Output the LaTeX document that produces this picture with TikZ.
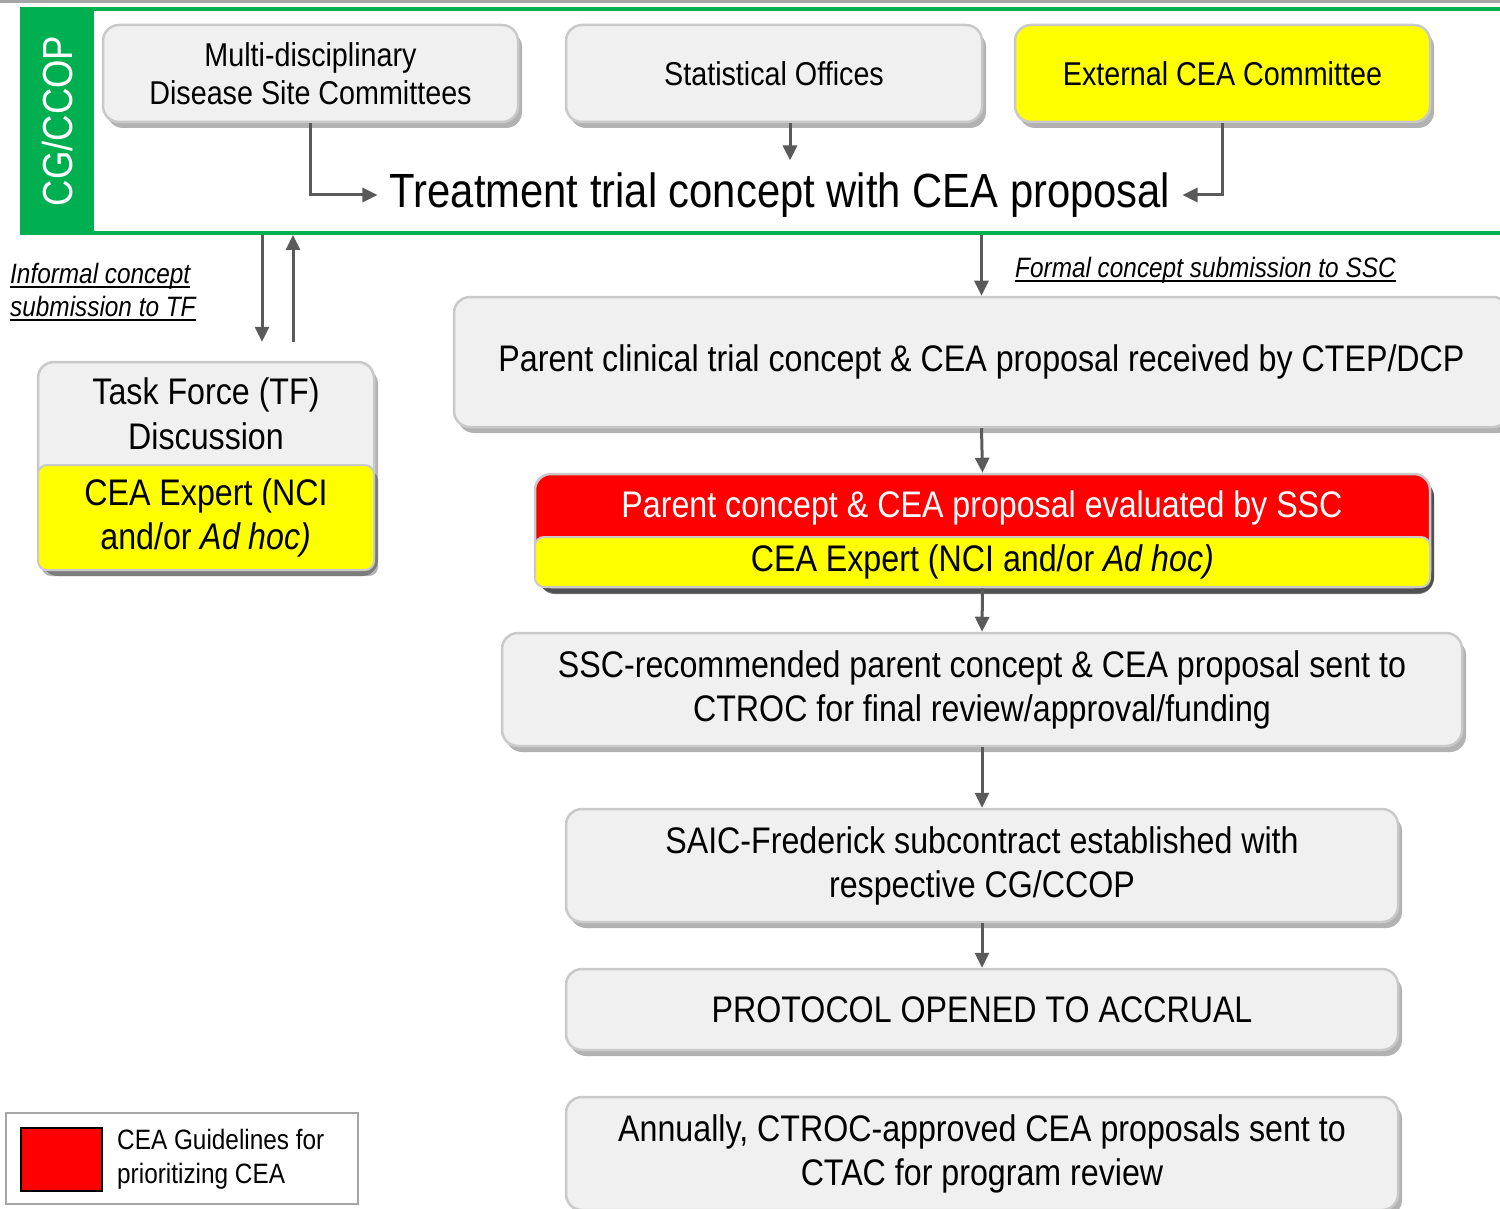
\documentclass[tikz,border=0pt]{standalone}
\usepackage{fontspec}
\setmainfont{Liberation Sans}[FakeStretch=0.87]
\usetikzlibrary{positioning,shadows,arrows.meta}
\definecolor{ccgreen}{HTML}{00B050}
\definecolor{boxgray}{HTML}{F0F0F0}
\definecolor{boxline}{HTML}{C9C9C9}
\definecolor{arrowgray}{HTML}{5A5A5A}
\definecolor{ceayellow}{HTML}{FFFF00}
\definecolor{ceared}{HTML}{FF0000}
\newcommand\ulbar[1]{\setbox0\hbox{#1}\rlap{\vrule height -3pt depth 5pt width \wd0}\box0}

\begin{document}
\begin{tikzpicture}[x=1pt,y=-1pt,
    stage/.style={draw=boxline, line width=2.5pt, fill=boxgray, rounded corners=16pt,
      align=center, inner sep=0pt, font=\fontsize{37}{44}\selectfont,
      drop shadow={shadow xshift=4pt, shadow yshift=-6pt, fill=black, opacity=0.3}},
    head/.style={stage, font=\fontsize{33}{38}\selectfont, minimum width=415pt, minimum height=97pt},
    expert/.style={draw=boxline, line width=2pt, fill=ceayellow, rounded corners=9pt,
      align=center, inner sep=0pt, font=\fontsize{37}{44}\selectfont},
    flow/.style={draw=arrowgray, line width=3pt, -{Triangle[length=15pt,width=14pt]}},
    note/.style={anchor=west, align=left, inner sep=0pt, font=\fontsize{28}{33}\selectfont\itshape}]
  \useasboundingbox (0,0) rectangle (1500,1209);
  \draw[gray!70, line width=3pt] (0,1.5) -- (1500,1.5);
  \node[draw=ccgreen, line width=4pt, minimum width=1498pt, minimum height=224pt, inner sep=0pt] (frame) at (771,121) {};
  \node[fill=ccgreen, minimum width=74pt, minimum height=228pt, inner sep=0pt] (bar) at (57,121) {};
  \node[rotate=90, text=white, font=\fontsize{42}{42}\selectfont] (cg) at (bar) {CG/CCOP};

  \node[head] (mdsc) at (310.5,73.5) {Multi-disciplinary\\Disease Site Committees};
  \node[head, minimum width=416pt] (stat) at (774,73.5) {Statistical Offices};
  \node[head, fill=ceayellow] (ext) at (1222.5,73.5) {External CEA Committee};
  \node[font=\fontsize{48}{52}\selectfont, inner sep=12pt] (tcon) at (780,195) {Treatment trial concept with CEA proposal};
  \draw[flow] (mdsc.south) |- (tcon.west);
  \draw[flow] (ext.south) |- (tcon.east);
  \draw[flow] ([xshift=16pt]stat.south) -- ([xshift=16pt]stat.south |- tcon.north);

  \node[stage, minimum width=336pt, minimum height=208pt] (tf) at (206,466) {};
  \node[font=\fontsize{37}{45}\selectfont, align=center] (tftext) at (206,413.5) {Task Force (TF)\\Discussion};
  \node[expert, minimum width=336pt, minimum height=105pt,
    drop shadow={shadow xshift=4pt, shadow yshift=-6pt, fill=black, opacity=0.3}] (tfx) at (206,517.5) {CEA Expert (NCI\\and/or \textit{Ad hoc)}};
  \draw[flow] ([xshift=56pt]tf.north |- frame.south) -- ([xshift=56pt,yshift=19pt]tf.north);
  \draw[flow] ([xshift=87pt,yshift=19pt]tf.north) -- ([xshift=87pt]tf.north |- frame.south);
  \node[note] (informal) at (10,292) {\ulbar{Informal concept}\\\ulbar{submission to TF}};

  \node[stage, minimum width=1055pt, minimum height=130pt] (recv) at (981.5,362) {Parent clinical trial concept \& CEA proposal received by CTEP/DCP};
  \draw[flow] (frame.south -| recv.north) -- (recv.north);
  \node[note] (formal) at (1015,270) {\ulbar{Formal concept submission to SSC}};

  \node[stage, fill=ceared, minimum width=895pt, minimum height=113pt,
    drop shadow={shadow xshift=4pt, shadow yshift=-7pt, fill=black, opacity=0.55}] (ssc) at (982.5,530.5) {};
  \node[text=white, font=\fontsize{37}{44}\selectfont] (ssctext) at (982,508) {Parent concept \& CEA proposal evaluated by SSC};
  \node[expert, minimum width=895pt, minimum height=50pt] (sscx) at (982.5,562) {CEA Expert (NCI and/or \textit{Ad hoc)}};
  \draw[flow] (recv.south) -- (ssc.north);

  \node[stage, minimum width=960pt, minimum height=113pt] (ctroc) at (982,689.5) {SSC-recommended parent concept \& CEA proposal sent to\\CTROC for final review/approval/funding};
  \draw[flow] (ssc.south) -- (ctroc.north);
  \node[stage, minimum width=832pt, minimum height=113pt] (saic) at (982,865.5) {SAIC-Frederick subcontract established with\\respective CG/CCOP};
  \draw[flow] (ctroc.south) -- (saic.north);
  \node[stage, minimum width=832pt, minimum height=81pt] (open) at (982,1009.5) {PROTOCOL OPENED TO ACCRUAL};
  \draw[flow] (saic.south) -- (open.north);
  \node[stage, minimum width=832pt, minimum height=113pt] (ctac) at (982,1153.5) {Annually, CTROC-approved CEA proposals sent to\\CTAC for program review};

  \node[draw=gray!70, line width=2pt, fill=white, minimum width=352pt, minimum height=91pt, inner sep=0pt] (leg) at (182,1158.5) {};
  \node[draw=black, line width=2.5pt, fill=ceared, minimum width=81pt, minimum height=63pt, inner sep=0pt] (legkey) at (61.5,1159.5) {};
  \node[anchor=west, align=left, inner sep=0pt, font=\fontsize{28}{34}\selectfont] (legtext) at (117,1159) {CEA Guidelines for\\prioritizing CEA};
\end{tikzpicture}
\end{document}
